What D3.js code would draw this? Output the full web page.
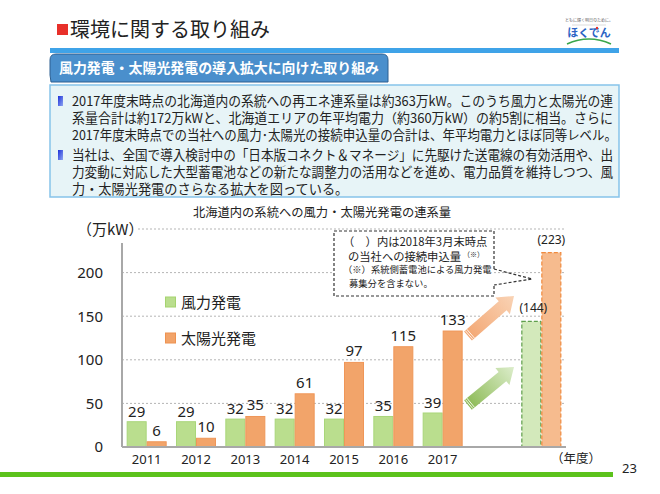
<!DOCTYPE html>
<html><head><meta charset="utf-8">
<script src="https://cdn.jsdelivr.net/npm/d3@7/dist/d3.min.js"></script>
<style>
html,body{margin:0;padding:0;background:#fff;}
svg{display:block;}
</style></head>
<body>
<svg id="c" width="660" height="494"></svg>
<script>
const years = ["2011","2012","2013","2014","2015","2016","2017"];
const windVals = [29,29,32,32,32,35,39];
const solarVals = [6,10,35,61,97,115,133];
const planKey = "plan";
const planWind = 144;
const planSolar = 223;
const yTicks = [0,50,100,150,200];
const gridVals = [50,100,150,200,250];
const legendItems = ["風力発電","太陽光発電"];
const bulletLines = [
  ["2017年度末時点の北海道内の系統への再エネ連系量は約363万kW。このうち風力と太陽光の連",
   "系量合計は約172万kWと、北海道エリアの年平均電力（約360万kW）の約5割に相当。さらに",
   "2017年度末時点での当社への風力･太陽光の接続申込量の合計は、年平均電力とほぼ同等レベル。"],
  ["当社は、全国で導入検討中の「日本版コネクト＆マネージ」に先駆けた送電線の有効活用や、出",
   "力変動に対応した大型蓄電池などの新たな調整力の活用などを進め、電力品質を維持しつつ、風",
   "力・太陽光発電のさらなる拡大を図っている。"]
];

const JP = "'Noto Sans CJK JP','Noto Sans',sans-serif";
const NUM = "'Noto Sans','DejaVu Sans',sans-serif";
const svg = d3.select("#c");
const defs = svg.append("defs");

// ---------- header ----------
svg.append("rect").attr("x",57).attr("y",24).attr("width",11).attr("height",11).attr("fill","#e8302a");
svg.append("text").attr("x",70).attr("y",37).attr("font-family",JP).attr("font-size",20)
  .attr("fill","#222").text("環境に関する取り組み");

// logo
svg.append("text").attr("x",589).attr("y",22).attr("text-anchor","middle").attr("font-family",JP)
  .attr("font-size",4).attr("fill","#666").text("ともに輝く明日のために。");
svg.append("line").attr("x1",572).attr("x2",606).attr("y1",25).attr("y2",25).attr("stroke","#bbb").attr("stroke-width",0.5);
svg.append("text").attr("x",589).attr("y",37).attr("text-anchor","middle").attr("font-family",JP)
  .attr("font-size",11).attr("font-weight","bold").attr("fill","#2a63c4").text("ほくでん");
svg.append("circle").attr("cx",597).attr("cy",28).attr("r",1.2).attr("fill","#e8302a");
svg.append("path").attr("d","M567,44 Q589,34 611,44").attr("fill","none").attr("stroke","#3aa64a").attr("stroke-width",1.6);

// blue bar
svg.append("rect").attr("x",50).attr("y",48).attr("width",569).attr("height",5).attr("fill","#3fa3e8");

// tab
svg.append("path").attr("d","M51,82 L50,75 L50,60 Q50,54 56,54 L382,54 Q388,54 388,60 L388,82 Z")
  .attr("fill","#4a8fcc").attr("stroke","#2c5f90").attr("stroke-width",1);
svg.append("text").attr("x",59).attr("y",73).attr("font-family",JP).attr("font-size",14)
  .attr("font-weight","bold").attr("fill","#fff").attr("textLength",320).attr("lengthAdjust","spacingAndGlyphs")
  .text("風力発電・太陽光発電の導入拡大に向けた取り組み");

// text box
svg.append("rect").attr("x",50).attr("y",85).attr("width",569).attr("height",112)
  .attr("fill","#e7f4f7").attr("stroke","#86c3ea").attr("stroke-width",1.5);
const bg = defs.append("linearGradient").attr("id","bul").attr("x1",0).attr("x2",1).attr("y1",0).attr("y2",1);
bg.append("stop").attr("offset","0").attr("stop-color","#1b2fd8");
bg.append("stop").attr("offset","1").attr("stop-color","#8fa6f2");
const lineY = [[101,118,135],[155,172,189]];
const lineW = [[541,541,545],[541,541,null]];
bulletLines.forEach((para,pi)=>{
  svg.append("rect").attr("x",58).attr("y",lineY[pi][0]-5).attr("width",5).attr("height",10).attr("fill","url(#bul)");
  para.forEach((t,li)=>{
    const tx = svg.append("text").attr("x",72).attr("y",lineY[pi][li]+4.5).attr("font-family",JP)
      .attr("font-size",13.2).attr("fill","#222").text(t);
    if(lineW[pi][li]) tx.attr("textLength",lineW[pi][li]).attr("lengthAdjust","spacingAndGlyphs");
  });
});

// ---------- chart ----------
const x = d3.scaleBand().domain([...years,"gap",planKey]).range([122,566]);
const y = d3.scaleLinear().domain([0,250]).range([447,229]);
const bw = 20;

svg.append("text").attr("x",322).attr("y",217).attr("text-anchor","middle").attr("font-family",JP)
  .attr("font-size",12.3).attr("fill","#222").text("北海道内の系統への風力・太陽光発電の連系量");
svg.append("text").attr("x",77).attr("y",235).attr("font-family",JP).attr("font-size",15)
  .attr("fill","#222").text("（万kW）");

// grid
svg.append("g").selectAll("line").data(gridVals).join("line")
  .attr("x1",d=>d===250?138:122).attr("x2",566)
  .attr("y1",d=>y(d)).attr("y2",d=>y(d))
  .attr("stroke","#b5b5b5").attr("stroke-width",1).attr("stroke-dasharray","2,2");

// y axis
const ya = svg.append("g").attr("transform","translate(122,0)")
  .call(d3.axisLeft(y).tickValues(yTicks).tickSize(0).tickPadding(19));
ya.select(".domain").remove();
ya.selectAll("text").attr("font-family",NUM).attr("font-size",15).attr("fill","#222");
svg.append("line").attr("x1",122).attr("x2",122).attr("y1",243).attr("y2",447).attr("stroke","#a8a8a8").attr("stroke-width",2);

// legend
const legColors = [["#bade8e","#a5d36f"],["#f2a46a","#ee9250"]];
legendItems.forEach((t,i)=>{
  const ly = 302 + i*36;
  svg.append("rect").attr("x",165.5).attr("y",ly-5).attr("width",10).attr("height",10)
    .attr("fill",legColors[i][0]).attr("stroke",legColors[i][1]).attr("stroke-width",1);
  svg.append("text").attr("x",181).attr("y",ly+6).attr("font-family",JP).attr("font-size",15)
    .attr("fill","#222").text(t);
});

// bars
const data = years.map((yr,i)=>({yr, w:windVals[i], s:solarVals[i]}));
const g = svg.append("g");
g.selectAll(".bw").data(data).join("rect")
  .attr("x",d=>x(d.yr)+x.bandwidth()/2-bw+0.5).attr("width",bw-1)
  .attr("y",d=>y(d.w)).attr("height",d=>y(0)-y(d.w))
  .attr("fill","#bade8e").attr("stroke","#a9d67a").attr("stroke-width",1);
g.selectAll(".bs").data(data).join("rect")
  .attr("x",d=>x(d.yr)+x.bandwidth()/2+0.5).attr("width",bw-1)
  .attr("y",d=>y(d.s)).attr("height",d=>y(0)-y(d.s))
  .attr("fill","#f2a46a").attr("stroke","#ef9658").attr("stroke-width",1);
g.selectAll(".lw").data(data).join("text")
  .attr("x",d=>x(d.yr)+x.bandwidth()/2-bw/2).attr("y",d=>y(d.w)-5)
  .attr("text-anchor","middle").attr("font-family",NUM).attr("font-size",15).attr("fill","#222")
  .text(d=>d.w);
g.selectAll(".ls").data(data).join("text")
  .attr("x",d=>x(d.yr)+x.bandwidth()/2+bw/2).attr("y",d=>y(d.s)-6)
  .attr("text-anchor","middle").attr("font-family",NUM).attr("font-size",15).attr("fill","#222")
  .text(d=>d.s);

// plan bars
const pc = x(planKey)+x.bandwidth()/2;
svg.append("rect").attr("x",pc-bw+0.5).attr("width",bw-1).attr("y",y(planWind)).attr("height",y(0)-y(planWind))
  .attr("fill","#d3e9bb").attr("stroke","#5f9f4c").attr("stroke-width",1.2).attr("stroke-dasharray","4,2");
svg.append("rect").attr("x",pc+0.5).attr("width",bw-1).attr("y",y(planSolar)).attr("height",y(0)-y(planSolar))
  .attr("fill","#f6bb8e").attr("stroke","#f08a3e").attr("stroke-width",1.2).attr("stroke-dasharray","4,2");
svg.append("text").attr("x",pc-bw/2+2).attr("y",y(planWind)-9).attr("text-anchor","middle")
  .attr("font-family",NUM).attr("font-size",12).attr("fill","#222").text("("+planWind+")");
svg.append("text").attr("x",pc+bw/2).attr("y",y(planSolar)-9).attr("text-anchor","middle")
  .attr("font-family",NUM).attr("font-size",12).attr("fill","#222").text("("+planSolar+")");

// x axis
const xa = svg.append("g").attr("transform","translate(0,447)")
  .call(d3.axisBottom(x).tickValues(years).tickSize(0).tickPadding(8));
xa.select(".domain").remove();
xa.selectAll("text").attr("font-family",NUM).attr("font-size",13).attr("fill","#222");
svg.append("line").attr("x1",122).attr("x2",566).attr("y1",447).attr("y2",447).attr("stroke","#a8a8a8").attr("stroke-width",2);
svg.append("text").attr("x",551).attr("y",463).attr("font-family",JP).attr("font-size",12.5)
  .attr("fill","#222").text("（年度）");

// arrows
function arrow(id, c1, c2, x0, y0, x1, y1){
  const gr = defs.append("linearGradient").attr("id",id).attr("x1",0).attr("x2",1).attr("y1",0).attr("y2",0);
  gr.append("stop").attr("offset","0").attr("stop-color",c1);
  gr.append("stop").attr("offset","1").attr("stop-color",c2);
  const L = Math.hypot(x1-x0,y1-y0), ang = Math.atan2(y1-y0,x1-x0)*180/Math.PI;
  const hl = 15, sw = 6, hw = 11;
  svg.append("path")
    .attr("d",`M0,${-sw} L${L-hl},${-sw} L${L-hl},${-hw} L${L},0 L${L-hl},${hw} L${L-hl},${sw} L0,${sw} Z`)
    .attr("transform",`translate(${x0},${y0}) rotate(${ang})`)
    .attr("fill",`url(#${id})`);
  const gs = svg.append("g").attr("transform",`translate(${x0},${y0}) rotate(${ang})`);
  [1.5,3.5].forEach(o=>gs.append("line").attr("x1",o).attr("x2",o).attr("y1",-sw).attr("y2",sw)
    .attr("stroke","#fff").attr("stroke-width",0.8));
}
arrow("ga1","#f3a773","#f9d3b5",468,336,514,296);
arrow("ga2","#8cba55","#dcedcb",468,405,514,367);

// callout
svg.append("path")
  .attr("d","M494,269 L494,231 L334,231 L334,296 L494,296 L494,284")
  .attr("fill","#fff").attr("stroke","#333").attr("stroke-width",1.2).attr("stroke-dasharray","3,2");
svg.append("path").attr("d","M494,269 L532,279 L494,285")
  .attr("fill","none").attr("stroke","#333").attr("stroke-width",1.2).attr("stroke-dasharray","3,2");
svg.append("text").attr("x",343).attr("y",246).attr("font-family",JP).attr("font-size",11.3)
  .attr("fill","#222").text("（　）内は2018年3月末時点");
const l2 = svg.append("text").attr("x",348).attr("y",261).attr("font-family",JP).attr("font-size",11.3).attr("fill","#222");
l2.append("tspan").text("の当社への接続申込量");
l2.append("tspan").attr("font-size",7).attr("dx",2).attr("dy",-4).text("（※）");
svg.append("text").attr("x",343).attr("y",273).attr("font-family",JP).attr("font-size",9.3)
  .attr("fill","#222").text("（※）系統側蓄電池による風力発電");
svg.append("text").attr("x",349).attr("y",287).attr("font-family",JP).attr("font-size",9.3)
  .attr("fill","#222").text("募集分を含まない。");

// bottom line & page number
svg.append("rect").attr("x",0).attr("y",472).attr("width",613).attr("height",5).attr("fill","#5cc21c");
svg.append("text").attr("x",622).attr("y",473).attr("font-family",NUM).attr("font-size",13)
  .attr("fill","#222").text("23");
</script>
</body></html>
